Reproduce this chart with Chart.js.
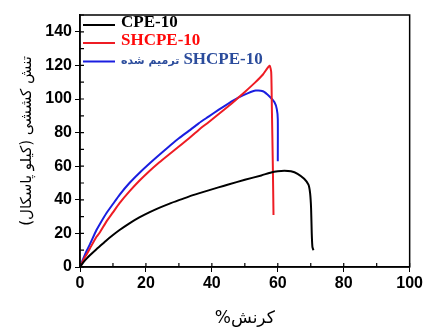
<!DOCTYPE html>
<html>
<head>
<meta charset="utf-8">
<script src="https://cdn.jsdelivr.net/npm/chart.js@4/dist/chart.umd.min.js"></script>
<style>
  html, body { margin: 0; padding: 0; background: #fff; }
  #wrap { width: 425px; height: 331px; position: relative; }
</style>
</head>
<body>
<div id="wrap"><canvas id="myChart"></canvas></div>
<script>
// data: strain (%) vs tensile stress (kPa)
const cpeX = [0, 1, 2, 3, 5, 6, 8, 10, 12, 15, 18, 21, 24, 27, 30, 33, 36, 39, 42, 45, 50, 55, 58, 60, 62, 64, 66, 68, 69.3, 69.8, 70.1, 70.3, 70.5, 70.8];
const cpeY = [0, 2.8, 5, 7, 10.6, 12.3, 15.8, 19, 22, 26, 29.5, 32.5, 35.2, 37.6, 39.8, 41.9, 43.8, 45.6, 47.4, 49.1, 51.9, 54.5, 56.3, 57, 57.3, 57, 55.5, 52.5, 49, 44, 35, 20, 12, 10];

const shX = [0, 1, 2, 3, 5, 6, 8, 10, 12, 15, 18, 21, 24, 27, 30, 33, 36, 39, 42, 45, 47, 50, 53, 55.5, 57.5, 58, 58.2, 58.5, 58.7];
const shY = [0, 4, 7.5, 11, 18, 20.5, 27, 32.5, 38, 45, 51.3, 57, 62.2, 67, 71.7, 76.5, 81.6, 86.2, 90.9, 95.7, 99, 104.2, 109.6, 114.6, 119.8, 116, 95, 60, 31];

const healX = [0, 1, 2, 3, 5, 6, 8, 10, 12, 15, 18, 21, 24, 27, 30, 33, 36, 39, 42, 45, 48, 51, 53.3, 55.5, 57.5, 59, 59.7, 60, 60];
const healY = [0, 5, 9.5, 13.5, 22, 25.5, 32, 37.5, 43, 50, 56, 61.5, 66.7, 71.7, 76.6, 81, 85.5, 89.5, 93.5, 97.3, 100.8, 103.5, 105, 104.6, 101.5, 98, 94, 88, 63];

const seriesNames = ['CPE-10', 'SHCPE-10', 'SHCPE-10 ترمیم شده'];
const lineColors = ['#000000', '#ee1c24', '#1a1ee0'];
const textColors = ['#000000', '#ff0a0a', '#2b4c9c'];

const xTitle = '%کرنش';
const yTitle = 'تنش کششی (کیلو پاسکال)';

function toPoints(xs, ys) {
    return xs.map((x, i) => ({x: x, y: ys[i]}));
}

// inner ticks, frame and in-plot legend
const extras = {
    id: 'extras',
    afterDraw(chart) {
        const ctx = chart.ctx;
        const a = chart.chartArea;
        const xs = chart.scales.x, ys = chart.scales.y;
        ctx.save();
        ctx.strokeStyle = '#000';
        ctx.lineWidth = 1.5;
        ctx.strokeRect(a.left, a.top, a.right - a.left, a.bottom - a.top);
        ctx.lineWidth = 1.2;
        ctx.beginPath();
        xs.ticks.forEach(t => {
            const px = xs.getPixelForValue(t.value);
            ctx.moveTo(px, a.bottom);
            ctx.lineTo(px, a.bottom - 4);
        });
        ys.ticks.forEach(t => {
            const py = ys.getPixelForValue(t.value);
            ctx.moveTo(a.left, py);
            ctx.lineTo(a.left + 4, py);
        });
        ctx.stroke();

        // legend
        const rows = [25, 43, 61.5];
        chart.data.datasets.forEach((ds, i) => {
            const y = rows[i];
            ctx.strokeStyle = ds.borderColor;
            ctx.lineWidth = 2;
            ctx.beginPath();
            ctx.moveTo(a.left + 3, y);
            ctx.lineTo(a.left + 35, y);
            ctx.stroke();
            ctx.fillStyle = textColors[i];
            ctx.textBaseline = 'middle';
            ctx.textAlign = 'left';
            const serif = "bold 17px 'Liberation Serif'";
            let x = a.left + 41;
            const sp = ds.label.indexOf(' ');
            if (sp > 0) {
                // latin name on the right, persian words on the left
                const latin = ds.label.slice(0, sp);
                const fa = ds.label.slice(sp + 1);
                ctx.font = "bold 11px 'DejaVu Sans'";
                ctx.fillText(fa, x, y);
                x += ctx.measureText(fa).width + 4;
                ctx.font = serif;
                ctx.fillText(latin, x, y - 2);
            } else {
                ctx.font = serif;
                ctx.fillText(ds.label, x, y - 2);
            }
        });
        ctx.restore();
    }
};

const config = {
    type: 'scatter',
    data: {
        datasets: [
            {label: seriesNames[0], data: toPoints(cpeX, cpeY), borderColor: lineColors[0]},
            {label: seriesNames[1], data: toPoints(shX, shY), borderColor: lineColors[1]},
            {label: seriesNames[2], data: toPoints(healX, healY), borderColor: lineColors[2]}
        ].map(d => Object.assign(d, {
            showLine: true, borderWidth: 2, pointRadius: 0, tension: 0.2, fill: false
        }))
    },
    options: {
        responsive: true,
        maintainAspectRatio: false,
        animation: false,
        layout: {padding: {top: 15, right: 13, left: 0, bottom: 0}},
        plugins: {legend: {display: false}, tooltip: {enabled: false}},
        scales: {
            x: {
                type: 'linear', min: 0, max: 100,
                afterFit(scale) { scale.height = 64; },
                grid: {
                    drawOnChartArea: false, tickLength: 5,
                    tickColor: c => (c.tick && c.tick.value % 20 === 0) ? '#000' : 'rgba(0,0,0,0)'
                },
                border: {color: '#000', width: 1.5},
                ticks: {
                    stepSize: 10, autoSkip: false, maxRotation: 0, padding: 2,
                    color: '#000',
                    font: {family: "'Liberation Sans', Arial", size: 16, weight: 'bold'},
                    callback: v => v % 20 === 0 ? v : ''
                },
                title: {
                    display: true, text: xTitle, color: '#000',
                    font: {family: "'DejaVu Sans'", size: 17},
                    padding: {top: 0, bottom: 2}
                }
            },
            y: {
                min: 0, max: 150,
                afterFit(scale) { scale.width = 80; },
                grid: {
                    drawOnChartArea: false, tickLength: 5,
                    tickColor: c => (c.tick && c.tick.value % 20 === 0) ? '#000' : 'rgba(0,0,0,0)'
                },
                border: {color: '#000', width: 1.5},
                ticks: {
                    stepSize: 10, autoSkip: false, padding: 3,
                    color: '#000',
                    font: {family: "'Liberation Sans', Arial", size: 16, weight: 'bold'},
                    callback: v => v % 20 === 0 ? v : ''
                },
                title: {
                    display: true, text: yTitle, color: '#000',
                    font: {family: "'DejaVu Sans'", size: 15},
                    padding: {top: 18, bottom: 0}
                }
            }
        }
    },
    plugins: [extras]
};

const myChart = new Chart(document.getElementById('myChart').getContext('2d'), config);
</script>
</body>
</html>
